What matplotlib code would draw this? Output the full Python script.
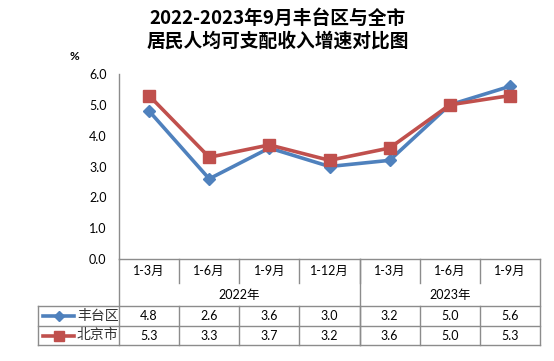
import matplotlib
matplotlib.use("Agg")
import matplotlib.pyplot as plt
from matplotlib.lines import Line2D
import matplotlib.transforms as mtransforms

plt.rcParams['font.family'] = ['Lato', 'Noto Sans CJK SC', 'DejaVu Sans']

periods = ["1-3月", "1-6月", "1-9月", "1-12月", "1-3月", "1-6月", "1-9月"]
years = ["2022年", "2023年"]
year_spans = [(0, 3), (4, 6)]
series_names = ["丰台区", "北京市"]
fengtai = [4.8, 2.6, 3.6, 3.0, 3.2, 5.0, 5.6]
beijing = [5.3, 3.3, 3.7, 3.2, 3.6, 5.0, 5.3]
yticks = [0.0, 1.0, 2.0, 3.0, 4.0, 5.0, 6.0]
title = "2022-2023年9月丰台区与全市\n居民人均可支配收入增速对比图"

W, H = 554, 361
fig = plt.figure(figsize=(W / 100, H / 100), dpi=100)
left, right, bottom, top = 119, 540, 259, 74
ax = fig.add_axes([left / W, 1 - bottom / H, (right - left) / W, (bottom - top) / H])

colors = ["#4F81BD", "#C0504D"]
markers = ["D", "s"]
msizes = [6.5, 8]
x = list(range(len(periods)))
for vals, c, m, ms in zip([fengtai, beijing], colors, markers, msizes):
    ax.plot(x, vals, color=c, lw=2.6, marker=m, ms=ms, mec=c, mfc=c, zorder=3)

ax.set_xlim(-0.5, len(periods) - 0.5)
ax.set_ylim(0, 6)
ax.set_yticks(yticks)
ax.set_yticklabels([f"{v:.1f}" for v in yticks], fontsize=9)
ax.tick_params(axis='y', length=0, pad=9)
ax.set_xticks([])
for s in ["top", "right"]:
    ax.spines[s].set_visible(False)
gray = "#8C8C8C"
ax.spines["left"].set_color(gray)
ax.spines["bottom"].set_color(gray)
ax.spines["left"].set_linewidth(1.0)
ax.spines["bottom"].set_linewidth(1.0)

# table drawn with blended transform: x in data, y in pixels -> figure coords
def ypix(p):
    return 1 - p / H
trans = mtransforms.blended_transform_factory(ax.transData, fig.transFigure)
ftrans = fig.transFigure

r0, r1, r2, r3, r4 = 259, 283, 306, 326, 345
xl = -0.5
xr = len(periods) - 0.5
lw = 1.0
def hline(x0, x1, yp, transform=trans):
    fig.add_artist(Line2D([x0, x1], [ypix(yp), ypix(yp)], color=gray, lw=lw, transform=transform))
def vline(xx, y0, y1, transform=trans):
    fig.add_artist(Line2D([xx, xx], [ypix(y0), ypix(y1)], color=gray, lw=lw, transform=transform))

# month row
for i, p in enumerate(periods):
    fig.text(i, ypix((r0 + r1) / 2), p, transform=trans, ha='center', va='center', fontsize=9)
    if i > 0:
        vline(i - 0.5, r0, r1)
# year row
for yname, (a, b) in zip(years, year_spans):
    fig.text((a + b) / 2, ypix((r1 + r2) / 2), yname, transform=trans, ha='center', va='center', fontsize=9)
vline(year_spans[1][0] - 0.5, r0, r4)
vline(xl, r0, r4)
vline(xr, r0, r4)
# data rows
tleft = 38 / W
for yy in (r2, r3, r4):
    fig.add_artist(Line2D([tleft, right / W], [ypix(yy), ypix(yy)], color=gray, lw=lw, transform=ftrans))
fig.add_artist(Line2D([tleft, tleft], [ypix(r2), ypix(r4)], color=gray, lw=lw, transform=ftrans))
for i in range(1, len(periods)):
    vline(i - 0.5, r2, r4)
for row, (vals, name, c, m, ms) in enumerate(zip([fengtai, beijing], series_names, colors, markers, msizes)):
    y0, y1 = [(r2, r3), (r3, r4)][row]
    yc = ypix((y0 + y1) / 2)
    for i, v in enumerate(vals):
        fig.text(i, yc, f"{v:.1f}", transform=trans, ha='center', va='center', fontsize=9)
    fig.add_artist(Line2D([43 / W, 74 / W], [yc, yc], color=c, lw=2.6, transform=ftrans))
    fig.add_artist(Line2D([58.5 / W], [yc], color=c, marker=m, ms=ms - 1, mec=c, mfc=c, transform=ftrans))
    fig.text(77 / W, yc, name, transform=ftrans, ha='left', va='center', fontsize=10,
             family=['Noto Sans CJK SC'], color="#333333")

fig.text(278 / W, ypix(30), title, ha='center', va='center', fontsize=13.5, fontweight='bold',
         family=['Noto Sans CJK SC'], linespacing=1.25)
fig.text(74 / W, ypix(57), "%", ha='center', va='center', fontsize=8.5, fontweight='bold')

fig.savefig("out.png", dpi=100)
